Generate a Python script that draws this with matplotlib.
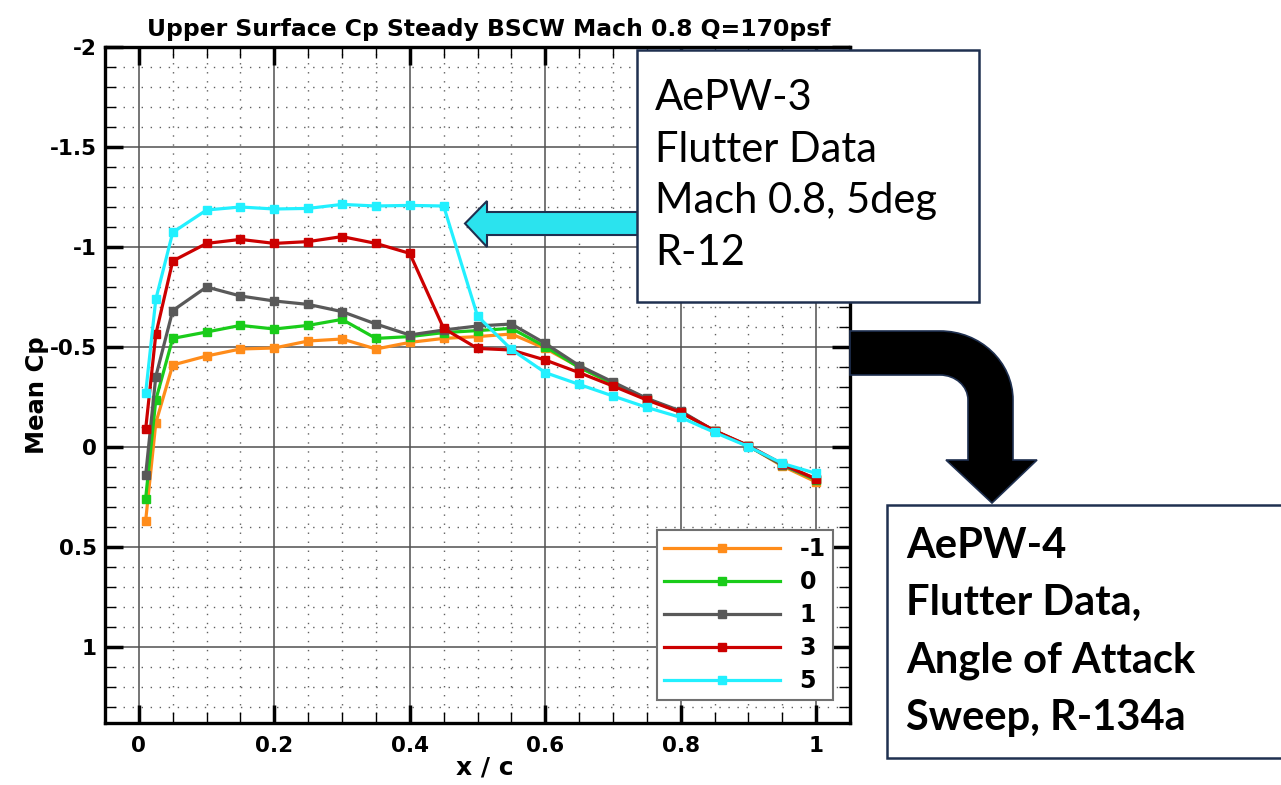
import matplotlib
matplotlib.use("Agg")
import matplotlib.pyplot as plt
from matplotlib.path import Path
from matplotlib.patches import PathPatch, Rectangle, Polygon
from matplotlib.ticker import MultipleLocator

# chordwise stations (x/c) and mean Cp for each angle of attack
x_c = [0.01, 0.025, 0.05, 0.1, 0.15, 0.2, 0.25, 0.3, 0.35, 0.4, 0.45,
       0.5, 0.55, 0.6, 0.65, 0.7, 0.75, 0.8, 0.85, 0.9, 0.95, 1.0]
cp_m1 = [0.37, -0.12, -0.41, -0.455, -0.49, -0.495, -0.53, -0.54, -0.49, -0.523, -0.543,
         -0.552, -0.565, -0.493, -0.40, -0.315, -0.24, -0.175, -0.08, -0.005, 0.095, 0.175]
cp_0 = [0.258, -0.235, -0.543, -0.575, -0.608, -0.59, -0.608, -0.638, -0.543, -0.552, -0.572,
        -0.582, -0.593, -0.502, -0.398, -0.318, -0.24, -0.175, -0.08, -0.005, 0.09, 0.165]
cp_1 = [0.142, -0.352, -0.682, -0.80, -0.755, -0.73, -0.713, -0.677, -0.615, -0.56, -0.585,
        -0.605, -0.615, -0.518, -0.407, -0.325, -0.243, -0.18, -0.08, -0.005, 0.09, 0.16]
cp_3 = [-0.088, -0.563, -0.93, -1.018, -1.038, -1.018, -1.027, -1.052, -1.018, -0.968, -0.593,
        -0.493, -0.485, -0.435, -0.372, -0.305, -0.235, -0.173, -0.082, -0.007, 0.085, 0.16]
cp_5 = [-0.268, -0.738, -1.073, -1.185, -1.20, -1.19, -1.193, -1.213, -1.205, -1.208, -1.205,
        -0.655, -0.488, -0.372, -0.313, -0.255, -0.198, -0.148, -0.073, -0.002, 0.082, 0.132]

alpha_labels = ["-1", "0", "1", "3", "5"]
series = [cp_m1, cp_0, cp_1, cp_3, cp_5]
colors = ["#FF8C1A", "#1ACC1A", "#595959", "#CC0000", "#22F0FF"]

xtick_vals = [0, 0.2, 0.4, 0.6, 0.8, 1.0]
xtick_labels = ["0", "0.2", "0.4", "0.6", "0.8", "1"]
ytick_vals = [-2, -1.5, -1, -0.5, 0, 0.5, 1]
ytick_labels = ["-2", "-1.5", "-1", "-0.5", "0", "0.5", "1"]

box3_text = "AePW-3\nFlutter Data\nMach 0.8, 5deg\nR-12"
box4_text = "AePW-4\nFlutter Data,\nAngle of Attack\nSweep, R-134a"

sans = "DejaVu Sans"
plt.rcParams.update({
    "font.family": sans,
    "xtick.labelsize": 15.5,
    "ytick.labelsize": 15.5,
    "legend.fontsize": 17,
})

W, H = 1281, 785
fig = plt.figure(figsize=(W / 100, H / 100), dpi=100)
ax = fig.add_axes([105 / W, 1 - 723 / H, 745 / W, 676 / H])

for cp, c, lab in zip(series, colors, alpha_labels):
    ax.plot(x_c, cp, color=c, lw=2.3, marker="s", ms=5.5, label=lab, zorder=3)

ax.set_xlim(-0.05, 1.05)
ax.set_ylim(1.38, -2)
ax.xaxis.set_minor_locator(MultipleLocator(0.05))
ax.yaxis.set_minor_locator(MultipleLocator(0.1))

ax.grid(which="major", color="#505050", lw=1.1, ls="-", zorder=0)
ax.grid(which="minor", color="#606060", lw=1.0, ls=(0, (1, 5.5)), zorder=0)
ax.tick_params(which="both", direction="in", top=True, right=True, colors="black")
ax.tick_params(which="major", length=13, width=2.5)
ax.tick_params(which="minor", length=8, width=1.0)
ax.tick_params(axis="x", which="major", pad=9)
ax.tick_params(axis="y", which="major", pad=6)
for s in ax.spines.values():
    s.set_linewidth(2.4)

ax.set_xticks(xtick_vals, xtick_labels, fontweight="bold")
ax.set_yticks(ytick_vals, ytick_labels, fontweight="bold")

ax.set_title("Upper Surface Cp Steady BSCW Mach 0.8 Q=170psf",
             fontweight="bold", fontsize=16.9, pad=8, x=0.515)
ax.set_xlabel("x / c", fontweight="bold", fontsize=18)
ax.set_ylabel("Mean Cp", fontweight="bold", fontsize=17.5)
ax.xaxis.set_label_coords(0.51, -0.048)
ax.yaxis.set_label_coords(-0.075, 0.485)

leg = ax.legend(loc="lower right", bbox_to_anchor=(0.977, 0.034), borderaxespad=0,
                numpoints=1, handlelength=4.9, fancybox=False, framealpha=1,
                edgecolor="#707070", prop={"weight": "bold", "size": 17},
                labelspacing=0.38, handletextpad=0.85, borderpad=0.3)
leg.get_frame().set_linewidth(1.5)

# overlay in pixel coordinates for the callout boxes and arrows
ov = fig.add_axes([0, 0, 1, 1])
ov.set_xlim(0, W)
ov.set_ylim(H, 0)
ov.axis("off")
ov.set_zorder(10)
ov.patch.set_visible(False)

navy = "#1F3050"

# cyan block arrow pointing at the 5 deg plateau
ov.add_patch(Polygon([(640, 212), (487, 212), (487, 201), (465, 223.5), (487, 247),
                      (487, 235), (640, 235)], closed=True, fc="#2BE3EE", ec=navy, lw=1.5))

# black bent arrow from the plot down to the second box
verts = [(850, 331), (940, 331),
         (980.3, 331), (1013, 361.9), (1013, 400),
         (1013, 460), (1037, 460), (992, 503), (946, 460), (968, 460), (968, 400),
         (968, 386.2), (955.5, 375), (940, 375),
         (850, 375), (850, 331)]
codes = [Path.MOVETO, Path.LINETO,
         Path.CURVE4, Path.CURVE4, Path.CURVE4,
         Path.LINETO, Path.LINETO, Path.LINETO, Path.LINETO, Path.LINETO, Path.LINETO,
         Path.CURVE4, Path.CURVE4, Path.CURVE4,
         Path.LINETO, Path.CLOSEPOLY]
ov.add_patch(PathPatch(Path(verts, codes), fc="black", ec=navy, lw=1.2))

ov.add_patch(Rectangle((637, 50), 342, 252, fc="white", ec=navy, lw=1.8))
ov.text(655, 79, box3_text, family="Lato", fontsize=30, va="top", ha="left",
        linespacing=1.44)

ov.add_patch(Rectangle((887, 505), 420, 253, fc="white", ec=navy, lw=1.8))
ov.text(906, 527, box4_text, family="Lato", fontweight="bold", fontsize=30,
        va="top", ha="left", linespacing=1.62)

fig.savefig("out.png", dpi=100)
